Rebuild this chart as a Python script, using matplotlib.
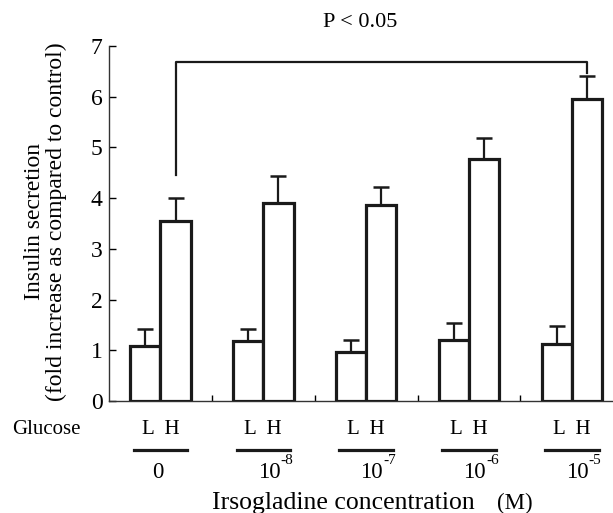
import matplotlib
matplotlib.use("Agg")
import matplotlib.pyplot as plt
from matplotlib.transforms import blended_transform_factory, ScaledTranslation
from matplotlib.lines import Line2D
import numpy as np

plt.rcParams['font.family'] = ['Liberation Serif', 'DejaVu Serif']

concentrations = ['0', '1e-8', '1e-7', '1e-6', '1e-5']
conc_base = ['0', '10', '10', '10', '10']
conc_exp = ['', '-8', '-7', '-6', '-5']
low_glucose = [1.09, 1.19, 0.97, 1.20, 1.13]
low_err = [0.32, 0.22, 0.23, 0.34, 0.34]
high_glucose = [3.54, 3.91, 3.86, 4.77, 5.96]
high_err = [0.46, 0.52, 0.36, 0.42, 0.44]
yticks = [0, 1, 2, 3, 4, 5, 6, 7]

W, H = 613, 513
fig = plt.figure(figsize=(W/100, H/100), dpi=100)
ax = fig.add_axes([109/W, (H-401)/H, 504/W, (401-46)/H])

x = np.arange(len(concentrations))
bw = 0.295
lw_bar = 2.3
ink = '#1a1a1a'
ax.bar(x - bw/2, low_glucose, bw, color='white', edgecolor=ink, linewidth=lw_bar, zorder=3)
ax.bar(x + bw/2, high_glucose, bw, color='white', edgecolor=ink, linewidth=lw_bar, zorder=3)
ax.errorbar(x - bw/2, low_glucose, yerr=[np.zeros(5), low_err], fmt='none', ecolor=ink,
            elinewidth=1.6, capsize=6, capthick=1.8, zorder=2)
ax.errorbar(x + bw/2, high_glucose, yerr=[np.zeros(5), high_err], fmt='none', ecolor=ink,
            elinewidth=1.6, capsize=6, capthick=1.8, zorder=2)

# significance bracket
bx0, bx1 = x[0] + bw/2, x[4] + bw/2
ax.plot([bx0, bx0, bx1, bx1], [4.45, 6.69, 6.69, 6.47], color=ink, lw=1.6,
        clip_on=False, zorder=4)

ax.set_xlim(-0.50, 4.40)
ax.set_ylim(0, 7)
ax.set_yticks(yticks)
ax.set_yticklabels([str(v) for v in yticks], fontsize=17)
ax.set_xticks([0.5, 1.5, 2.5, 3.5])
ax.set_xticklabels([])
ax.tick_params(axis='x', direction='in', length=4, width=1)
ax.tick_params(axis='y', direction='in', length=5, width=1, pad=4.5)
for s in ['top', 'right']:
    ax.spines[s].set_visible(False)
for s in ['left', 'bottom']:
    ax.spines[s].set_linewidth(1.0)
    ax.spines[s].set_color('#333333')

def fy(py):
    return 1 - py / H

fig.text(45.5/W, fy(222), 'Insulin secretion\n(fold increase as compared to control)',
         fontsize=17, rotation=90, ha='center', va='center', linespacing=1.0)

trans = blended_transform_factory(ax.transData, fig.transFigure)
shift = ScaledTranslation(17/100, 0, fig.dpi_scale_trans)

fig.text(46/W, fy(430), 'Glucose', fontsize=15, ha='center', va='center')
for i in range(len(concentrations)):
    ax.text(x[i], fy(430), 'L  H', transform=trans, fontsize=15, ha='center', va='center')
    ax.add_line(Line2D([x[i] - 0.26, x[i] + 0.26], [fy(450), fy(450)], transform=trans,
                       color=ink, lw=2.3, clip_on=False))
    if conc_exp[i]:
        ax.text(x[i], fy(473), conc_base[i], transform=trans + shift, fontsize=16.5,
                ha='right', va='center')
        ax.text(x[i], fy(461), conc_exp[i], transform=trans + shift, fontsize=11,
                ha='left', va='center')
    else:
        ax.text(x[i] - 0.03, fy(473), conc_base[i], transform=trans, fontsize=16.5,
                ha='center', va='center')

fig.text(212/W, fy(503), 'Irsogladine concentration', fontsize=18.5, ha='left', va='center')
fig.text(514.5/W, fy(503), '(M)', fontsize=16.5, ha='center', va='center')
fig.text(360/W, fy(23), 'P < 0.05', fontsize=16, ha='center', va='center')

fig.savefig('out.png', dpi=100)
